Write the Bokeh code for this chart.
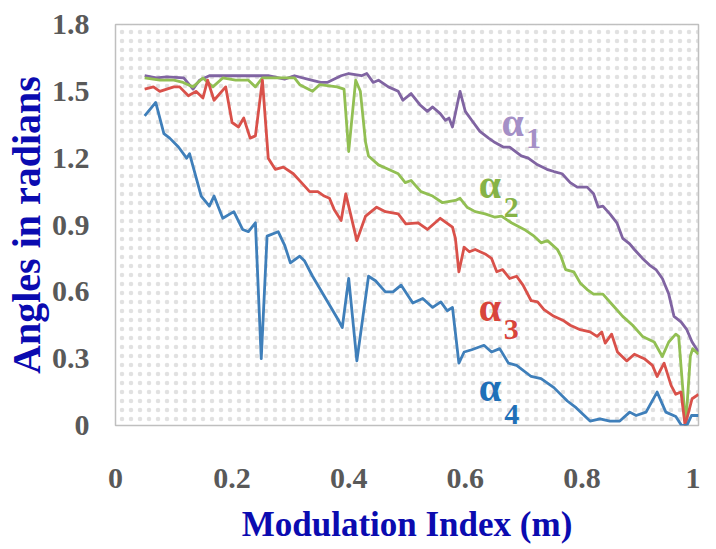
from bokeh.plotting import figure
from bokeh.models import Range1d, FixedTicker, NumeralTickFormatter, BoxAnnotation
from bokeh.core.properties import value
from bokeh.embed import file_html
from bokeh.resources import INLINE

# ---- data ----
m_a1 = [0.05, 0.07, 0.088, 0.117, 0.133, 0.144, 0.161, 0.195, 0.262, 0.29, 0.307, 0.336, 0.352, 0.363,
        0.387, 0.40, 0.422, 0.431, 0.442, 0.451, 0.468, 0.485, 0.493, 0.507, 0.522, 0.535, 0.544, 0.557,
        0.566, 0.572, 0.578, 0.591, 0.60, 0.611, 0.625, 0.64, 0.651, 0.665, 0.676, 0.696, 0.708, 0.724,
        0.74, 0.752, 0.766, 0.78, 0.792, 0.809, 0.82, 0.828, 0.836, 0.848, 0.86, 0.87, 0.882, 0.89, 0.904,
        0.916, 0.927, 0.938, 0.949, 0.958, 0.97, 0.98, 0.989, 1.0]
a1 = [1.57, 1.56, 1.565, 1.56, 1.51, 1.55, 1.57, 1.57, 1.57, 1.555, 1.57, 1.55, 1.54, 1.54,
      1.57, 1.58, 1.57, 1.58, 1.54, 1.55, 1.52, 1.50, 1.46, 1.49, 1.44, 1.41, 1.43, 1.40,
      1.37, 1.38, 1.34, 1.50, 1.41, 1.37, 1.32, 1.29, 1.27, 1.25, 1.25, 1.21, 1.20, 1.17,
      1.15, 1.14, 1.13, 1.09, 1.07, 1.07, 1.04, 0.98, 0.985, 0.95, 0.91, 0.84, 0.815, 0.79, 0.75,
      0.72, 0.70, 0.66, 0.59, 0.49, 0.465, 0.43, 0.375, 0.33]

m_a2 = [0.05, 0.076, 0.1, 0.116, 0.133, 0.15, 0.167, 0.184, 0.206, 0.228, 0.24, 0.252, 0.307, 0.316,
        0.338, 0.35, 0.38, 0.392, 0.40, 0.412, 0.42, 0.429, 0.434, 0.451, 0.468, 0.485, 0.497, 0.507,
        0.524, 0.544, 0.561, 0.583, 0.591, 0.603, 0.617, 0.634, 0.651, 0.662, 0.679, 0.701, 0.718, 0.73,
        0.741, 0.758, 0.764, 0.772, 0.786, 0.797, 0.809, 0.82, 0.836, 0.853, 0.87, 0.887, 0.904, 0.924,
        0.938, 0.949, 0.961, 0.966, 0.978, 0.986, 0.99, 1.0]
a2 = [1.56, 1.55, 1.55, 1.54, 1.52, 1.56, 1.52, 1.56, 1.55, 1.55, 1.52, 1.56, 1.56, 1.53,
      1.50, 1.53, 1.52, 1.51, 1.23, 1.55, 1.50, 1.27, 1.21, 1.17, 1.15, 1.13, 1.09, 1.10,
      1.05, 1.03, 1.00, 1.01, 1.02, 0.98, 0.96, 0.95, 0.935, 0.94, 0.91, 0.88, 0.85, 0.82,
      0.83, 0.79, 0.76, 0.70, 0.69, 0.64, 0.61, 0.59, 0.59, 0.54, 0.49, 0.45, 0.40, 0.375,
      0.31, 0.375, 0.41, 0.40, 0.0, 0.31, 0.345, 0.32]

m_a3 = [0.05, 0.065, 0.076, 0.1, 0.11, 0.125, 0.138, 0.15, 0.158, 0.169, 0.189, 0.20, 0.211, 0.22,
        0.231, 0.24, 0.252, 0.262, 0.274, 0.288, 0.305, 0.319, 0.333, 0.347, 0.358, 0.367, 0.375, 0.387,
        0.395, 0.414, 0.429, 0.448, 0.463, 0.485, 0.498, 0.519, 0.535, 0.557, 0.578, 0.583, 0.589, 0.598,
        0.607, 0.617, 0.634, 0.645, 0.654, 0.664, 0.676, 0.688, 0.699, 0.713, 0.724, 0.735, 0.752, 0.769,
        0.78, 0.797, 0.814, 0.826, 0.834, 0.84, 0.851, 0.861, 0.877, 0.89, 0.907, 0.921, 0.929, 0.941,
        0.953, 0.961, 0.97, 0.977, 0.989, 1.0]
a3 = [1.51, 1.52, 1.50, 1.52, 1.52, 1.48, 1.50, 1.47, 1.55, 1.46, 1.52, 1.36, 1.34, 1.38,
      1.29, 1.30, 1.55, 1.20, 1.15, 1.16, 1.13, 1.09, 1.05, 1.05, 1.03, 1.02, 0.97, 0.92,
      1.04, 0.83, 0.94, 0.98, 0.96, 0.95, 0.905, 0.91, 0.88, 0.93, 0.89, 0.84, 0.69, 0.80,
      0.78, 0.79, 0.77, 0.75, 0.69, 0.70, 0.66, 0.67, 0.63, 0.56, 0.555, 0.52, 0.49, 0.47,
      0.45, 0.43, 0.42, 0.40, 0.42, 0.37, 0.41, 0.33, 0.29, 0.32, 0.30, 0.27, 0.22, 0.28,
      0.18, 0.14, 0.15, 0.0, 0.12, 0.14]

m_a4 = [0.05, 0.069, 0.083, 0.093, 0.108, 0.122, 0.127, 0.147, 0.161, 0.169, 0.184, 0.203, 0.218, 0.228,
        0.24, 0.25, 0.26, 0.279, 0.29, 0.30, 0.316, 0.324, 0.338, 0.383, 0.389, 0.40, 0.414, 0.434,
        0.446, 0.463, 0.476, 0.49, 0.51, 0.527, 0.544, 0.558, 0.569, 0.578, 0.589, 0.598, 0.611, 0.632,
        0.645, 0.659, 0.674, 0.688, 0.713, 0.73, 0.752, 0.775, 0.79, 0.814, 0.831, 0.848, 0.865, 0.882,
        0.893, 0.91, 0.929, 0.944, 0.961, 0.971, 0.98, 0.988, 1.0]
a4 = [1.39, 1.45, 1.31, 1.29, 1.25, 1.20, 1.22, 1.03, 0.985, 1.03, 0.93, 0.96, 0.88, 0.87,
      0.91, 0.30, 0.85, 0.87, 0.81, 0.73, 0.76, 0.74, 0.67, 0.47, 0.44, 0.66, 0.29, 0.67,
      0.65, 0.60, 0.60, 0.63, 0.55, 0.57, 0.53, 0.555, 0.515, 0.53, 0.28, 0.33, 0.34, 0.36,
      0.33, 0.345, 0.28, 0.27, 0.22, 0.21, 0.17, 0.11, 0.08, 0.02, 0.03, 0.02, 0.02, 0.06,
      0.045, 0.06, 0.15, 0.06, 0.04, 0.0, 0.0, 0.045, 0.045]

x_ticks = [0, 0.2, 0.4, 0.6, 0.8, 1.0]
y_ticks = [0, 0.3, 0.6, 0.9, 1.2, 1.5, 1.8]

series_names = ["1", "2", "3", "4"]
alpha_x = [0.662, 0.623, 0.623, 0.623]
alpha_y = [1.36, 1.08, 0.53, 0.17]
sub_x = [0.704, 0.666, 0.666, 0.667]
sub_y = [1.29, 0.98, 0.43, 0.05]

line_colors = ["#8064A2", "#92BF53", "#D9514A", "#3F7FBA"]
label_colors = ["#A48FC6", "#86B346", "#D8443B", "#1F70B8"]

# ---- figure ----
p = figure(width=700, height=546, output_backend="svg", toolbar_location=None,
           x_range=Range1d(0, 1), y_range=Range1d(0, 1.8),
           min_border_left=110, min_border_right=2, min_border_top=24, min_border_bottom=119)
p.background_fill_color = "white"
p.border_fill_color = "white"
p.outline_line_color = "#BFBFBF"
p.outline_line_width = 1.5
p.grid.visible = False

# dotted background pattern
p.add_layout(BoxAnnotation(left=0, right=1, bottom=0, top=1.8, fill_alpha=0, line_alpha=0,
                           hatch_pattern="dot", hatch_color="#c8c8c8", hatch_scale=9,
                           hatch_weight=0.3, hatch_alpha=0.55, level="underlay"))

for xs, ys, c in zip([m_a1, m_a2, m_a3, m_a4], [a1, a2, a3, a4], line_colors):
    p.line(xs, ys, line_color=c, line_width=2.8, line_join="round")

alphas = ["\u03b1"] * 4
p.text(alpha_x, alpha_y, text=alphas, text_color=label_colors,
       text_font=value("Liberation Serif"), text_font_style="bold", text_font_size="40px",
       text_baseline="alphabetic", text_align="left")
p.text(sub_x, sub_y, text=series_names, text_color=label_colors,
       text_font=value("Liberation Serif"), text_font_style="bold", text_font_size="30px",
       text_baseline="alphabetic", text_align="left")

for ax, ticks in ((p.xaxis, x_ticks), (p.yaxis, y_ticks)):
    ax.ticker = FixedTicker(ticks=ticks)
    ax.formatter = NumeralTickFormatter(format="0.[0]")
    ax.axis_line_color = None
    ax.major_tick_line_color = None
    ax.minor_tick_line_color = None
    ax.major_tick_out = 0
    ax.major_tick_in = 0
    ax.minor_tick_out = 0
    ax.major_label_text_font = "Liberation Serif"
    ax.major_label_text_font_style = "bold"
    ax.major_label_text_font_size = "30px"
    ax.major_label_text_color = "#595959"
    ax.axis_label_text_font = "Liberation Serif"
    ax.axis_label_text_font_style = "bold"
    ax.axis_label_text_color = "#0B0BB0"

p.xaxis.axis_label = "Modulation Index (m)"
p.xaxis.axis_label_text_font_size = "35px"
p.xaxis.major_label_standoff = 43
p.xaxis.axis_label_standoff = 14
p.yaxis.axis_label = "Angles in radians"
p.yaxis.axis_label_text_font_size = "40px"
p.yaxis.major_label_standoff = 26
p.yaxis.axis_label_standoff = 0

open("out.html", "w").write(file_html(p, INLINE))
